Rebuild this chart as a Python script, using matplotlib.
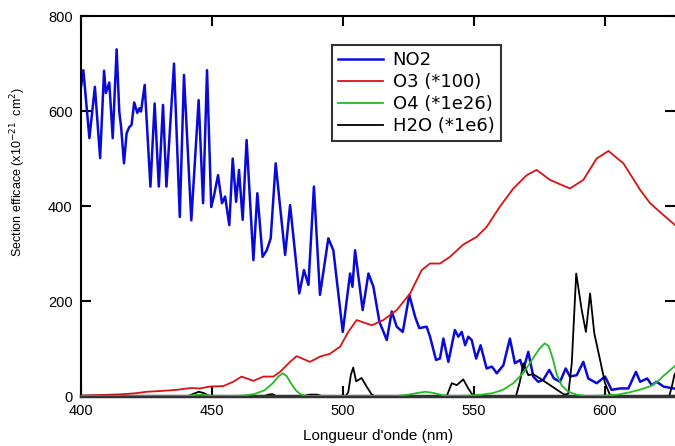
import matplotlib
matplotlib.use("Agg")
import matplotlib.pyplot as plt

# NO2 cross section (x1e-21 cm2)
no2_wl = [400.0, 400.9, 403.2, 405.3, 407.3, 408.8, 409.5, 410.8, 412.1, 413.6,
          414.6, 415.3, 416.4, 417.4, 418.4, 419.3, 420.3, 421.5, 422.3, 422.9,
          424.3, 426.5, 428.1, 429.7, 431.3, 432.6, 435.5, 437.7, 439.3, 442.1,
          444.9, 446.6, 448.1, 449.7, 450.8, 452.3, 453.8, 455.0, 456.6, 457.9,
          459.2, 460.3, 461.7, 463.2, 465.8, 467.3, 469.3, 470.9, 472.4, 474.3,
          476.0, 477.9, 479.8, 481.0, 483.3, 485.1, 486.8, 488.9, 491.2, 494.4,
          496.3, 499.9, 502.7, 503.6, 504.6, 507.5, 509.7, 511.6, 513.9, 516.7,
          518.6, 520.5, 522.8, 525.3, 527.5, 529.1, 531.9, 533.2, 535.5, 537.0,
          538.3, 540.2, 542.7, 544.0, 545.3, 546.6, 547.8, 549.1, 550.8, 552.5,
          554.8, 556.8, 558.7, 561.2, 563.7, 565.6, 567.6, 568.8, 570.7, 572.6,
          574.5, 576.4, 578.7, 580.5, 582.8, 585.0, 586.6, 589.2, 591.7, 593.6,
          596.8, 600.0, 602.5, 605.7, 608.9, 611.8, 613.4, 616.1, 617.8, 619.7,
          622.3, 626.1, 628.0]
no2_val = [651, 686, 543, 651, 501, 685, 638, 660, 543, 730,
           599, 567, 490, 553, 566, 571, 618, 596, 606, 599,
           655, 441, 616, 441, 613, 441, 700, 377, 676, 370,
           623, 406, 686, 398, 423, 465, 406, 420, 360, 500,
           409, 476, 371, 539, 286, 427, 293, 307, 332, 490,
           398, 297, 402, 339, 216, 265, 234, 441, 213, 332,
           307, 135, 258, 230, 307, 181, 258, 230, 156, 118,
           178, 146, 135, 213, 167, 143, 146, 125, 76, 79,
           121, 72, 139, 125, 135, 107, 125, 118, 79, 107,
           58, 62, 48, 65, 121, 69, 76, 55, 93, 41,
           30, 34, 55, 37, 30, 58, 41, 44, 72, 37,
           27, 41, 13, 16, 16, 51, 30, 37, 23, 30,
           20, 16, 16]

# O3 (*100)
o3_wl = [400, 406, 415, 421, 425, 430, 436.5, 442, 445.4, 449.2, 454.3, 458.1,
         461.3, 465.8, 469.6, 473.4, 476, 479.8, 482.3, 487.4, 491.2, 495,
         498.9, 502, 505.2, 511, 515.4, 520.5, 525.6, 530, 533.2, 537, 540.8,
         545.9, 551, 554.8, 559.9, 565, 570.1, 573.9, 579, 586.6, 591.7, 596.8,
         601.3, 607, 613.4, 617.2, 622.3, 626.7, 628]
o3_val = [1, 2, 3.5, 6, 9, 10.5, 13, 17, 16, 20, 21, 30,
          41, 32, 41, 41, 51, 72, 84, 72, 83, 89,
          104, 135, 160, 149, 160, 181, 216, 265, 279, 279, 293,
          319, 335, 356, 399, 437, 465, 476, 455, 437, 455, 500,
          516, 490, 434, 406, 381, 360, 354]

# O4 (*1e26)
o4_wl = [400, 440, 443, 446, 449, 455, 462, 466, 470, 473, 475.5, 477, 478.5,
         480, 482, 484, 487, 520, 525, 529, 531.5, 534, 538, 542, 548, 553,
         557, 561, 565, 569, 572, 575, 577, 578.5, 580, 581.6, 583.5, 586, 589,
         593, 600, 605, 609.5, 613, 617, 620, 622, 624.5, 627, 628]
o4_val = [0, 0, 2, 3, 1, 0, 1, 4, 12, 26, 42, 48, 42,
          28, 12, 3, 0, 0, 3, 7, 9, 7, 2, 0, 1, 3,
          6, 13, 27, 50, 75, 100, 111, 105, 80, 45, 22, 9, 3,
          0, 1, 3, 8, 13, 20, 30, 41, 53, 65, 70]

# H2O (*1e6)
h2o_wl = [400, 441, 443, 445, 447, 449, 470, 471.5, 473, 474.5, 485, 487, 490,
          492, 501, 502, 503, 503.9, 505, 507.1, 509, 511, 512, 539.6, 541.5,
          543.4, 545.9, 547.8, 549.7, 566, 567.5, 568.8, 570.7, 572.6, 575.2,
          579, 582.8, 584.5, 586, 587.3, 589, 591.1, 592.7, 594.3, 595.9, 598.1,
          600, 601.9, 603, 624.5, 625.5, 626.5, 628]
h2o_val = [0, 0, 5, 9, 6, 0, 0, 3, 4, 0, 0, 3, 3,
           0, 0, 8, 45, 60, 31, 38, 20, 3, 0, 0, 27,
           23, 35, 16, 0, 0, 30, 69, 44, 46, 37,
           23, 9, 3, 5, 69, 258, 181, 135, 216, 132, 76,
           27, 2, 0, 0, 20, 45, 60]

x_ticks = [400, 450, 500, 550, 600]
y_ticks = [0, 200, 400, 600, 800]

plt.rcParams['font.family'] = ['Liberation Sans', 'DejaVu Sans']

fig = plt.figure(figsize=(6.75, 4.46), dpi=100)
ax = fig.add_axes([0.12, 0.112, 0.88, 0.852])

ax.plot(no2_wl, no2_val, color='#0a0ad8', lw=1.8, label='NO2')
ax.plot(o3_wl, o3_val, color='#dd1111', lw=1.3, label='O3 (*100)')
ax.plot(o4_wl, o4_val, color='#22bb22', lw=1.3, label='O4 (*1e26)', zorder=3)
ax.plot(h2o_wl, h2o_val, color='black', lw=1.3, label='H2O (*1e6)')

ax.set_xlim(400, 626.7)
ax.set_ylim(0, 800)
ax.set_xticks(x_ticks)
ax.set_yticks(y_ticks)
ax.tick_params(direction='in', top=True, right=True, length=7, width=1.5,
               labelsize=10.5, pad=6)
for side in ax.spines.values():
    side.set_linewidth(1.5)
ax.spines['right'].set_visible(False)
ax.spines['bottom'].set_color('#333333')
ax.spines['bottom'].set_linewidth(2.5)

ax.set_xlabel("Longueur d'onde (nm)", fontsize=11, labelpad=8)
ax.set_ylabel('Section efficace (x10$^{-21}$  cm$^{2}$)', fontsize=9)
ax.yaxis.set_label_coords(-0.09, 0.59)

leg = ax.legend(loc='upper left', bbox_to_anchor=(0.4226, 0.924),
                borderaxespad=0, frameon=True, fancybox=False,
                handlelength=2.5, borderpad=0.35, labelspacing=0.22,
                handletextpad=0.5, prop={'family': 'DejaVu Sans', 'size': 13})
leg.get_frame().set_edgecolor('black')
leg.get_frame().set_linewidth(1.5)

fig.savefig('out.png', dpi=100)
